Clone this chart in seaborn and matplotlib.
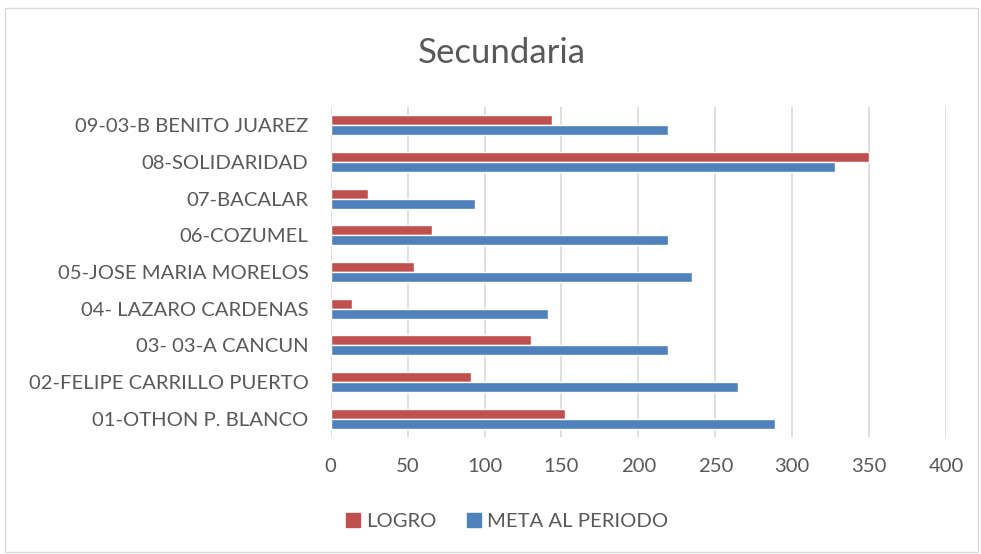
import matplotlib
matplotlib.use("Agg")
import matplotlib.pyplot as plt
import pandas as pd
import seaborn as sns
from matplotlib.patches import Rectangle

# data
regiones = [
    "01-OTHON P. BLANCO",
    "02-FELIPE CARRILLO PUERTO",
    "03- 03-A CANCUN",
    "04- LAZARO CARDENAS",
    "05-JOSE MARIA MORELOS",
    "06-COZUMEL",
    "07-BACALAR",
    "08-SOLIDARIDAD",
    "09-03-B BENITO JUAREZ",
]
logro = [152, 91, 130, 14, 54, 66, 24, 350, 144]
meta = [289, 265, 219, 141, 235, 219, 94, 328, 219]
series = ["LOGRO", "META AL PERIODO"]
colores = ["#C0504D", "#4F81BD"]
ticks_x = [0, 50, 100, 150, 200, 250, 300, 350, 400]

df = pd.DataFrame({
    "region": regiones * 2,
    "valor": logro + meta,
    "serie": [series[0]] * len(regiones) + [series[1]] * len(regiones),
})

sns.set_theme(style="white")
plt.rcParams["font.family"] = ["Lato", "DejaVu Sans"]
gris = "#595959"

fig = plt.figure(figsize=(9.81, 5.54), dpi=100)
ax = fig.add_axes([0.3371, 0.2112, 0.6272, 0.5957])

sns.barplot(
    data=df, y="region", x="valor", hue="serie",
    order=regiones[::-1], hue_order=series, palette=colores,
    orient="h", width=0.55, saturation=1, ax=ax, legend=False,
)

ax.set_xlim(0, 400)
ax.set_xticks(ticks_x)
ax.grid(axis="x", color="#D9D9D9", linewidth=1.2)
ax.set_axisbelow(True)
for s in ax.spines.values():
    s.set_visible(False)
ax.tick_params(axis="both", length=0, colors=gris, labelsize=14.6)
ax.tick_params(axis="y", pad=16)
ax.tick_params(axis="x", pad=15)
ax.set_xlabel("")
ax.set_ylabel("")

fig.text(0.512, 0.905, "Secundaria", ha="center", va="center",
         fontsize=25, color=gris)

handles = [Rectangle((0, 0), 1, 1, color=c) for c in colores]
fig.legend(handles, series, loc="center", bbox_to_anchor=(0.517, 0.058),
           ncol=2, frameon=False, fontsize=14.6, labelcolor=gris,
           handlelength=0.7, handleheight=0.7, handletextpad=0.3,
           columnspacing=1.5)

# light chart-area border
fig.add_artist(Rectangle((5 / 981, 2 / 554), 973 / 981, 544 / 554,
                         transform=fig.transFigure, fill=False,
                         edgecolor="#D9D9D9", linewidth=1))

fig.savefig("out.png", dpi=100)
